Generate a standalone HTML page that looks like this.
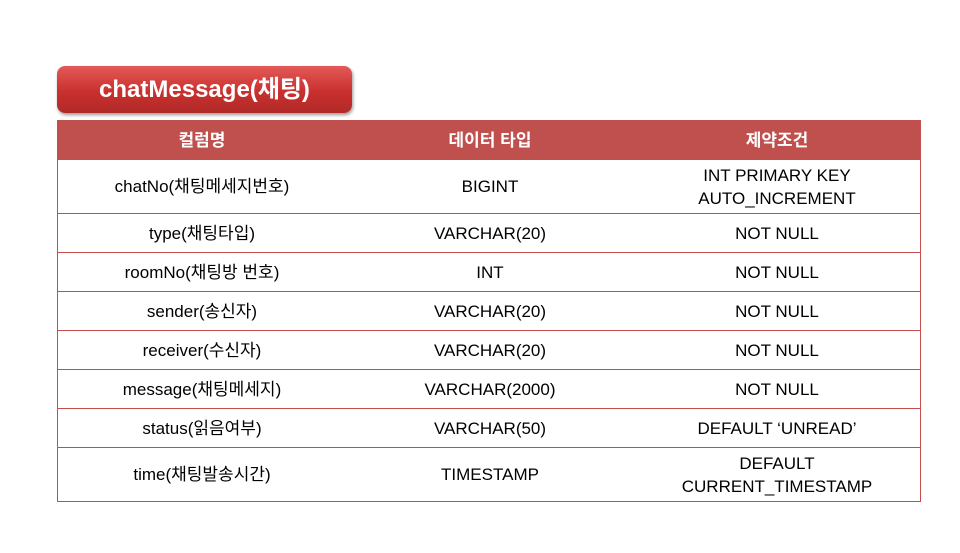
<!DOCTYPE html>
<html><head><meta charset="utf-8"><style>
body{margin:0;width:960px;height:553px;background:#fff;position:relative;overflow:hidden;font-family:"Liberation Sans","Noto Sans CJK KR",sans-serif;}
.btn{position:absolute;left:57px;top:66px;width:295px;height:47px;border-radius:8px;background:linear-gradient(#e25a58,#c9302e 55%,#b02a28);box-shadow:1px 2px 3px rgba(0,0,0,.4);color:#fff;font-weight:bold;font-size:24px;line-height:47px;text-align:center;}
table{position:absolute;left:57px;top:120px;width:864px;border-collapse:collapse;font-size:17px;color:#000;}
td,th{text-align:center;padding:0;border-top:1px solid #c0504d;border-bottom:1px solid #c0504d;line-height:23px;}
th{background:#c0504d;color:#fff;font-weight:bold;height:38px;}
tr td:first-child,tr th:first-child{border-left:1px solid #c0504d;}
tr td:last-child,tr th:last-child{border-right:1px solid #c0504d;}
</style></head><body>
<div class="btn">chatMessage(채팅)</div>
<table>
<tr><th style="width:288px">컬럼명</th><th style="width:288px">데이터 타입</th><th>제약조건</th></tr>
<tr style="height:54px"><td>chatNo(채팅메세지번호)</td><td>BIGINT</td><td>INT PRIMARY KEY<br>AUTO_INCREMENT</td></tr>
<tr style="height:39px"><td>type(채팅타입)</td><td>VARCHAR(20)</td><td>NOT NULL</td></tr>
<tr style="height:39px"><td>roomNo(채팅방 번호)</td><td>INT</td><td>NOT NULL</td></tr>
<tr style="height:39px"><td>sender(송신자)</td><td>VARCHAR(20)</td><td>NOT NULL</td></tr>
<tr style="height:39px"><td>receiver(수신자)</td><td>VARCHAR(20)</td><td>NOT NULL</td></tr>
<tr style="height:39px"><td>message(채팅메세지)</td><td>VARCHAR(2000)</td><td>NOT NULL</td></tr>
<tr style="height:39px"><td>status(읽음여부)</td><td>VARCHAR(50)</td><td>DEFAULT ‘UNREAD’</td></tr>
<tr style="height:54px"><td>time(채팅발송시간)</td><td>TIMESTAMP</td><td>DEFAULT<br>CURRENT_TIMESTAMP</td></tr>
</table>
</body></html>
